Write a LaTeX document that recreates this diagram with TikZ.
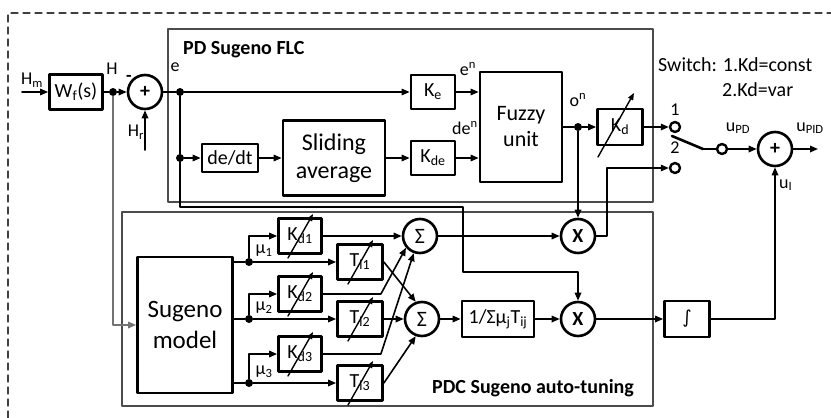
\documentclass[tikz,border=0pt]{standalone}
\usepackage{fontspec}
\setmainfont{Carlito}
\newfontfamily\simbolos{DejaVu Sans}
\usetikzlibrary{arrows.meta}

\newcommand{\fuentegrande}{\fontsize{24}{28}\selectfont}
\newcommand{\fuentemedia}{\fontsize{20}{24}\selectfont}
\newcommand{\fuentechica}{\fontsize{18}{20}\selectfont}

\begin{document}
\begin{tikzpicture}[x=1pt, y=-1pt, line cap=round, line join=round,
	>={Triangle[length=8pt, width=6.5pt]},
	bloque/.style={draw, line width=2.8pt, inner sep=0pt, align=center, font=\fuentemedia},
	sumador/.style={draw, circle, line width=2.6pt, minimum size=34pt, inner sep=0pt, font=\fuentemedia},
	punto/.style={circle, fill, minimum size=8pt, inner sep=0pt},
	contacto/.style={draw, circle, line width=2.4pt, minimum size=10pt, inner sep=0pt},
	etiqueta/.style={inner sep=0pt, font=\fuentechica},
	titulo/.style={inner sep=0pt, font=\fuentemedia\bfseries},
	panel/.style={draw=black!70, line width=2pt},
	senal/.style={line width=1.6pt},
	ajuste/.style={line width=1.4pt, -{Triangle[length=7pt, width=5.5pt]}}]
	
	% Ventana de dibujo y marco punteado
	\useasboundingbox (0,0) rectangle (831,418);
	\draw[dash pattern=on 7pt off 5pt, line width=1.2pt, color=black!75] (8,418) -- (8,13) -- (831,13);
	
	% Paneles PD y PDC
	\draw[panel] (168,29) rectangle (653,202);
	\draw[panel] (122,212) rectangle (653,406);
	\node[titulo, anchor=west] (tpd) at (183,50) {PD Sugeno FLC};
	\node[titulo, anchor=west] (tpdc) at (432,388) {PDC Sugeno auto-tuning};
	
	% Entrada, filtro y comparador
	\coordinate (hm) at (22,92);
	\node[etiqueta] (lhm) at (32,80) {H\textsubscript{m}};
	\node[bloque, minimum width=53pt, minimum height=35pt] (wf) at (76,92) {W\textsubscript{f}(s)};
	\node[punto] (hpunto) at (113,92) {};
	\node[etiqueta] (lh) at (112,69) {H};
	\node[sumador] (suma1) at (145,92) {\textbf{+}};
	\node[etiqueta] (lmenos) at (129,78) {\textbf{-}};
	\coordinate (hr) at (145,150);
	\node[etiqueta] (lhr) at (136,132) {H\textsubscript{r}};
	\draw[senal, ->] (hm) -- (wf.west);
	\draw[senal] (wf.east) -- (hpunto);
	\draw[senal, ->] (hpunto) -- (suma1.west);
	\draw[senal, ->] (hr) -- (suma1.south);
	
	% Controlador PD difuso
	\node[etiqueta] (le) at (175,67) {e};
	\node[punto] (epunto) at (180,92) {};
	\node[punto] (epunto2) at (180,158) {};
	\node[bloque, minimum width=44pt, minimum height=34pt] (ke) at (433,92) {K\textsubscript{e}};
	\node[bloque, minimum width=56pt, minimum height=28pt] (dedt) at (230,158) {de/dt};
	\node[bloque, minimum width=102pt, minimum height=75pt, font=\fuentegrande] (media) at (334,158) {Sliding\\average};
	\node[bloque, minimum width=44pt, minimum height=34pt] (kde) at (433,158) {K\textsubscript{de}};
	\node[bloque, minimum width=82pt, minimum height=110pt, font=\fontsize{22}{26}\selectfont] (fuzzy) at (521,127) {Fuzzy\\unit};
	\node[etiqueta] (len) at (468,69) {e\textsuperscript{n}};
	\node[etiqueta] (lden) at (465,128) {de\textsuperscript{n}};
	\node[punto] (opunto) at (578,127) {};
	\node[etiqueta] (lon) at (578,100) {o\textsuperscript{n}};
	\node[bloque, minimum width=45pt, minimum height=36pt] (kd) at (620,127) {K\textsubscript{d}};
	\draw[senal] (suma1.east) -- (epunto);
	\draw[senal, ->] (epunto) -- (ke.west);
	\draw[senal] (epunto) -- (epunto2);
	\draw[senal, ->] (epunto2) -- (dedt.west);
	\draw[senal, ->] (dedt.east) -- (media.west);
	\draw[senal, ->] (media.east) -- (kde.west);
	\draw[senal, ->] (ke.east) -- (ke.east -| fuzzy.west);
	\draw[senal, ->] (kde.east) -- (kde.east -| fuzzy.west);
	\draw[senal] (fuzzy.east) -- (opunto);
	\draw[senal, ->] (opunto) -- (kd.west);
	
	% Conmutador y sumador de salida
	\node[contacto] (c1) at (675,127) {};
	\node[contacto] (c2) at (675,168) {};
	\node[etiqueta] (l1) at (675,110) {1};
	\node[etiqueta] (l2) at (675,148) {2};
	\node[contacto] (pivote) at (722,149) {};
	\coordinate (cuchilla0) at (672,136);
	\coordinate (cuchilla) at (703,149);
	\draw[line width=2.6pt] (cuchilla0) -- (cuchilla);
	\draw[senal] (cuchilla) -- (pivote.west);
	\draw[senal, ->] (kd.east) -- (c1.west);
	\node[sumador] (suma2) at (775,149) {\textbf{+}};
	\coordinate (upid) at (818,149);
	\draw[senal, ->] (pivote.east) -- (suma2.west);
	\draw[senal, ->] (suma2.east) -- (upid);
	\node[etiqueta] (lupd) at (738,128) {u\textsubscript{PD}};
	\node[etiqueta] (lupid) at (810,128) {u\textsubscript{PID}};
	\node[etiqueta, anchor=west] (lui) at (779,185) {u\textsubscript{I}};
	\node[etiqueta, anchor=west, font=\fuentemedia] (lsw1) at (658,65) {Switch: 1.Kd=const};
	\node[etiqueta, anchor=west, font=\fuentemedia] (lsw2) at (722,90) {2.Kd=var};
	
	% Auto-sintonia PDC: modelo Sugeno y ganancias
	\node[bloque, minimum width=95pt, minimum height=136pt, font=\fontsize{25}{31}\selectfont] (sugeno) at (185,325) {Sugeno\\model};
	\draw[senal, black!55, ->] (hpunto) |- (sugeno.west);
	\foreach \i/\y/\yk in {1/262/236, 2/319/294, 3/383/354} {
		\node[punto] (mu\i) at (249,\y) {};
		\node[bloque, minimum width=43pt, minimum height=35pt] (kd\i) at (300,\yk) {K\textsubscript{d\i}};
		\node[bloque, minimum width=45pt, minimum height=35pt] (ti\i) at (360,\y) {T\textsubscript{i\i}};
		\node[etiqueta] (lmu\i) at (264,\y-11) {μ\textsubscript{\i}};
		\draw[senal] (sugeno.east |- mu\i) -- (mu\i);
		\draw[senal, ->] (mu\i) -- (ti\i.west);
		\draw[senal, ->] (mu\i) |- (kd\i.west);
	}
	
	% Sumatorios, normalizacion y multiplicadores
	\node[sumador, font=\fontsize{22}{24}\selectfont] (sig1) at (420,236) {Σ};
	\node[sumador, font=\fontsize{22}{24}\selectfont] (sig2) at (422,319) {Σ};
	\node[bloque, minimum width=72pt, minimum height=36pt] (inv) at (498,319) {1/Σμ\textsubscript{j}T\textsubscript{ij}};
	\node[sumador] (x1) at (578,236) {\textbf{X}};
	\node[sumador] (x2) at (578,319) {\textbf{X}};
	\node[bloque, minimum width=45pt, minimum height=36pt, font=\simbolos\fontsize{18}{20}\selectfont] (integ) at (687,319) {∫};
	\draw[senal, ->] (kd1.east) -- (sig1.west);
	\draw[senal, ->] (kd2.east) -- ++(58,0) -- (sig1.220);
	\draw[senal, ->] (kd3.east) -- ++(58,0) -- (sig1.250);
	\draw[senal, ->] (ti1.east) -- (sig2.110);
	\draw[senal, ->] (ti2.east) -- (sig2.west);
	\draw[senal, ->] (ti3.east) -- (sig2.250);
	\draw[senal, ->] (sig1.east) -- (x1.west);
	\draw[senal, ->] (sig2.east) -- (inv.west);
	\draw[senal, ->] (inv.east) -- (x2.west);
	\draw[senal, ->] (x2.east) -- (integ.west);
	\draw[senal, ->] (integ.east) -| (suma2.south);
	\draw[senal, ->] (opunto) -- (x1.north);
	\draw[senal, ->] (x1.east) -- (607,236) |- (c2.west);
	\draw[senal, ->] (epunto2) |- (463,207) -- (463,272) -| (x2.north);
	
	% Flechas de ganancia variable
	\foreach \n in {kd1,kd2,kd3,ti1,ti2,ti3}
	\draw[ajuste] ([shift={(-12,22)}]\n.center) -- ++(25,-44);
	\draw[ajuste] ([shift={(-22,30)}]kd.center) -- ++(36,-64);
	
\end{tikzpicture}
\end{document}
